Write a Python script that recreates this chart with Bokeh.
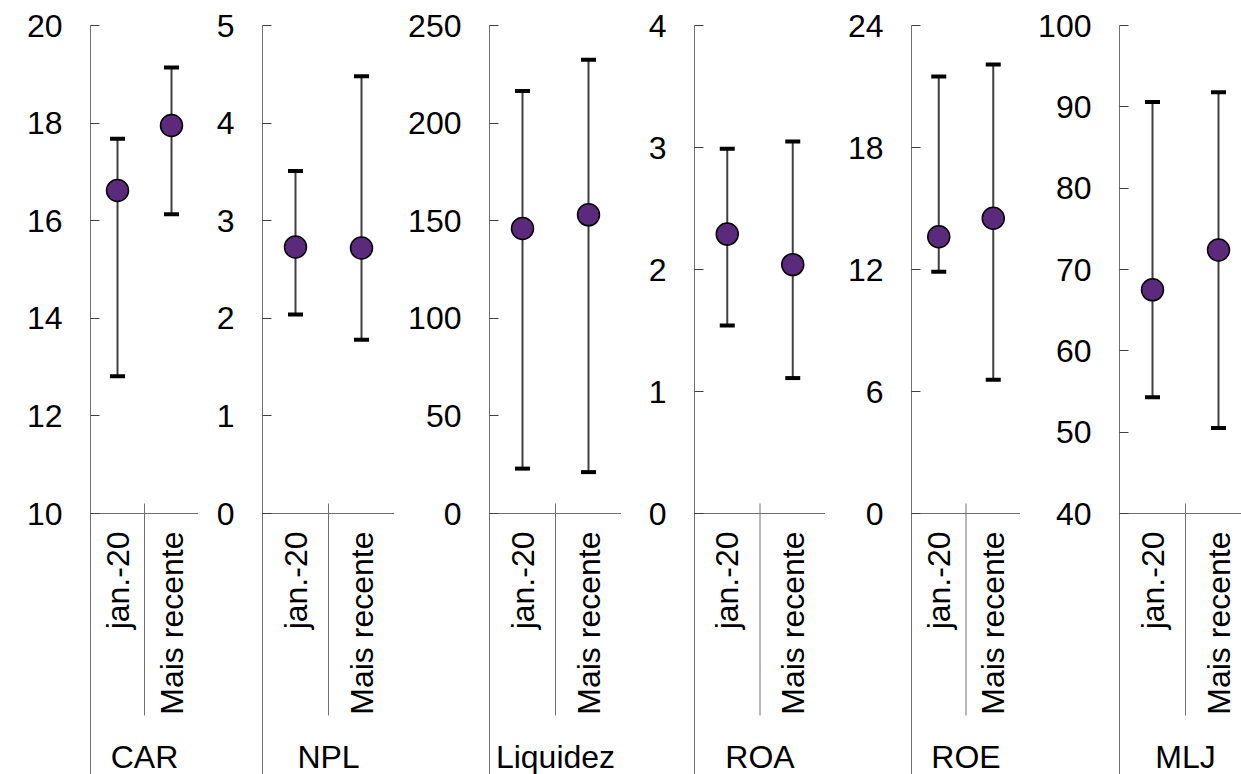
import math
from bokeh.plotting import figure
from bokeh.layouts import row
from bokeh.models import Range1d, FixedTicker, ColumnDataSource, Whisker, TeeHead
from bokeh.core.properties import value
from bokeh.embed import file_html
from bokeh.resources import INLINE

# ---- data ----
metrics = ["CAR", "NPL", "Liquidez", "ROA", "ROE", "MLJ"]
periods = ["jan.-20", "Mais recente"]

jan_mid = [16.62, 2.73, 146.0, 2.29, 13.61, 67.5]
jan_high = [17.68, 3.51, 216.4, 2.99, 21.49, 90.6]
jan_low = [12.81, 2.04, 23.0, 1.54, 11.89, 54.3]

rec_mid = [17.95, 2.72, 153.0, 2.04, 14.52, 72.4]
rec_high = [19.14, 4.48, 232.4, 3.05, 22.08, 91.8]
rec_low = [16.13, 1.78, 21.2, 1.11, 6.58, 50.5]

y_min = [10, 0, 0, 0, 0, 40]
y_max = [20, 5, 250, 4, 24, 100]
y_step = [2, 1, 50, 1, 6, 10]

# ---- layout / style ----
FONT = "Liberation Sans"
FS = "32px"
TOP = 25
AXIS_PX = 488
BELOW_PX = 261
left_borders = [90, 64, 95, 73, 86, 99]
frame_widths = [108, 132, 132, 131, 109, 122]
x_ends = [2, 2, 2, 2, 2, 122 / 66]
LINE = "#707070"

figs = []
for i, m in enumerate(metrics):
    lo, hi, st = y_min[i], y_max[i], y_step[i]
    upp = (hi - lo) / AXIS_PX
    y_start = lo - BELOW_PX * upp
    p = figure(width=left_borders[i] + frame_widths[i], height=TOP + AXIS_PX + BELOW_PX,
               x_range=Range1d(0, x_ends[i]), y_range=Range1d(y_start, hi),
               output_backend="svg", toolbar_location=None, x_axis_location=None,
               min_border_left=left_borders[i], min_border_right=0,
               min_border_top=TOP, min_border_bottom=0)
    p.outline_line_color = None
    p.grid.visible = False
    ax = p.yaxis[0]
    ax.ticker = FixedTicker(ticks=list(range(lo, hi + 1, st)))
    ax.major_tick_in = 9
    ax.major_tick_out = 0
    ax.minor_tick_line_color = None
    ax.axis_line_color = LINE
    ax.major_tick_line_color = "#404040"
    ax.major_label_standoff = 28
    ax.major_label_text_font = FONT
    ax.major_label_text_font_size = FS
    ax.major_label_text_color = "black"

    # category box lines
    p.segment(x0=[0], y0=[lo], x1=[2], y1=[lo], line_color=LINE, line_width=1)
    p.segment(x0=[1], y0=[lo + 10 * upp], x1=[1], y1=[lo - 202 * upp], line_color=LINE, line_width=1)
    p.segment(x0=[2], y0=[lo + 10 * upp], x1=[2], y1=[y_start], line_color=LINE, line_width=1)

    xs = [0.5, 1.5]
    src = ColumnDataSource(dict(x=xs, mid=[jan_mid[i], rec_mid[i]],
                                hi=[jan_high[i], rec_high[i]], lo=[jan_low[i], rec_low[i]]))
    w = Whisker(base="x", upper="hi", lower="lo", source=src, line_color="#404040", line_width=2,
                upper_head=TeeHead(size=15, line_width=4, line_color="black"),
                lower_head=TeeHead(size=15, line_width=4, line_color="black"),
                level="underlay")
    p.add_layout(w)
    p.scatter(x="x", y="mid", source=src, size=22, fill_color="#5b2a7c",
              line_color="black", line_width=1.5)

    p.text(x=xs, y=[lo - 18 * upp] * 2, text=periods, angle=math.pi / 2,
           text_align="right", text_baseline="middle",
           text_font=value(FONT), text_font_size=FS, text_color="black")
    p.text(x=[1.0], y=[lo - 243 * upp], text=[m], text_align="center", text_baseline="middle",
           text_font=value(FONT), text_font_size=FS, text_color="black")
    figs.append(p)

layout = row(*figs)
open("out.html", "w").write(file_html(layout, INLINE))
